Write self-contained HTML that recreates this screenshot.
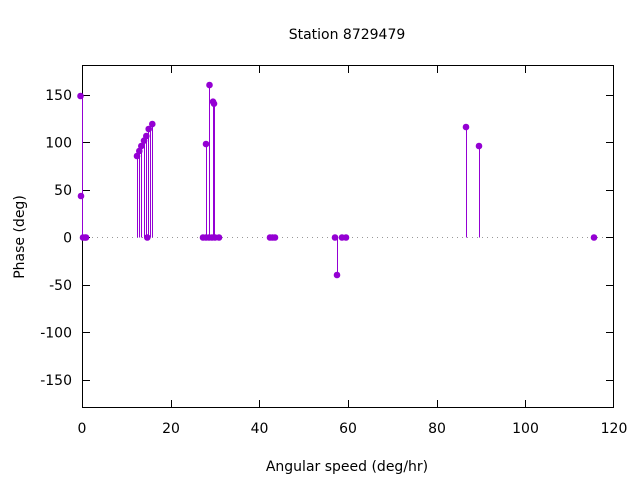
<!DOCTYPE html>
<html><head><style>body{margin:0;background:#fff}svg{display:block}text{font-family:"DejaVu Sans","Liberation Sans",sans-serif;font-size:14px;fill:#000}</style></head><body>
<svg width="640" height="480" xmlns="http://www.w3.org/2000/svg">
<text x="347" y="39" text-anchor="middle">Station 8729479</text>
<line x1="82" y1="237.5" x2="614" y2="237.5" stroke="#999" stroke-dasharray="1,4"/>
<rect x="82.5" y="65.5" width="531" height="342" fill="none" stroke="#000"/>
<g stroke="#000">
<path d="M82 95.5h8M614 95.5h-8M82 142.5h8M614 142.5h-8M82 190.5h8M614 190.5h-8M82 237.5h8M614 237.5h-8M82 285.5h8M614 285.5h-8M82 332.5h8M614 332.5h-8M82 380.5h8M614 380.5h-8"/>
<path d="M82.5 408v-8M82.5 65v8M171.5 408v-8M171.5 65v8M259.5 408v-8M259.5 65v8M348.5 408v-8M348.5 65v8M437.5 408v-8M437.5 65v8M525.5 408v-8M525.5 65v8"/>
</g>
<g text-anchor="end">
<text x="72" y="100">150</text><text x="72" y="147.5">100</text><text x="72" y="195">50</text><text x="72" y="242.5">0</text><text x="72" y="290">-50</text><text x="72" y="337.5">-100</text><text x="72" y="385">-150</text>
</g>
<g text-anchor="middle">
<text x="82" y="433">0</text><text x="171" y="433">20</text><text x="259.5" y="433">40</text><text x="348" y="433">60</text><text x="437" y="433">80</text><text x="525.5" y="433">100</text><text x="614" y="433">120</text>
<text x="347" y="471">Angular speed (deg/hr)</text>
<text transform="translate(24,237) rotate(-90)">Phase (deg)</text>
</g>
<g stroke="#9400d3" stroke-width="1" shape-rendering="crispEdges">
<path d="M82.5 96V237.5M82.5 196V237.5M137.5 156V237.5M139.5 151V237.5M141.5 146V237.5M144.5 140.7V237.5M146.5 136V237.5M148.5 129V237.5M150.5 126V237.5M152.5 124V237.5M206.5 144V237.5M209.5 85V237.5M213.5 101.7V237.5M214.5 103.7V237.5M337.5 275V237.5M466.5 127V237.5M479.5 146V237.5"/>
</g>
<g fill="#9400d3">
<circle cx="80.5" cy="96" r="3.3"/><circle cx="81" cy="196" r="3.3"/>
<circle cx="83" cy="237.5" r="3.3"/><circle cx="85" cy="237.5" r="3.3"/><circle cx="86" cy="237.5" r="3.3"/>
<circle cx="137" cy="156" r="3.3"/><circle cx="139.3" cy="151" r="3.3"/><circle cx="141.3" cy="146" r="3.3"/><circle cx="144" cy="140.7" r="3.3"/><circle cx="146.3" cy="136" r="3.3"/><circle cx="148.7" cy="129" r="3.3"/><circle cx="152.3" cy="124" r="3.3"/><circle cx="147.3" cy="237.5" r="3.3"/>
<circle cx="206" cy="144" r="3.3"/><circle cx="209.5" cy="85" r="3.3"/><circle cx="213" cy="101.7" r="3.3"/><circle cx="214" cy="103.7" r="3.3"/>
<circle cx="203" cy="237.5" r="3.3"/><circle cx="206" cy="237.5" r="3.3"/><circle cx="209" cy="237.5" r="3.3"/><circle cx="212" cy="237.5" r="3.3"/><circle cx="215" cy="237.5" r="3.3"/><circle cx="219" cy="237.5" r="3.3"/>
<circle cx="270" cy="237.5" r="3.3"/><circle cx="272.5" cy="237.5" r="3.3"/><circle cx="275" cy="237.5" r="3.3"/>
<circle cx="335" cy="237.5" r="3.3"/><circle cx="337" cy="275" r="3.3"/><circle cx="342" cy="237.5" r="3.3"/><circle cx="346" cy="237.5" r="3.3"/>
<circle cx="466" cy="127" r="3.3"/><circle cx="479" cy="146" r="3.3"/><circle cx="594" cy="237.5" r="3.3"/>
</g>
</svg>
</body></html>
